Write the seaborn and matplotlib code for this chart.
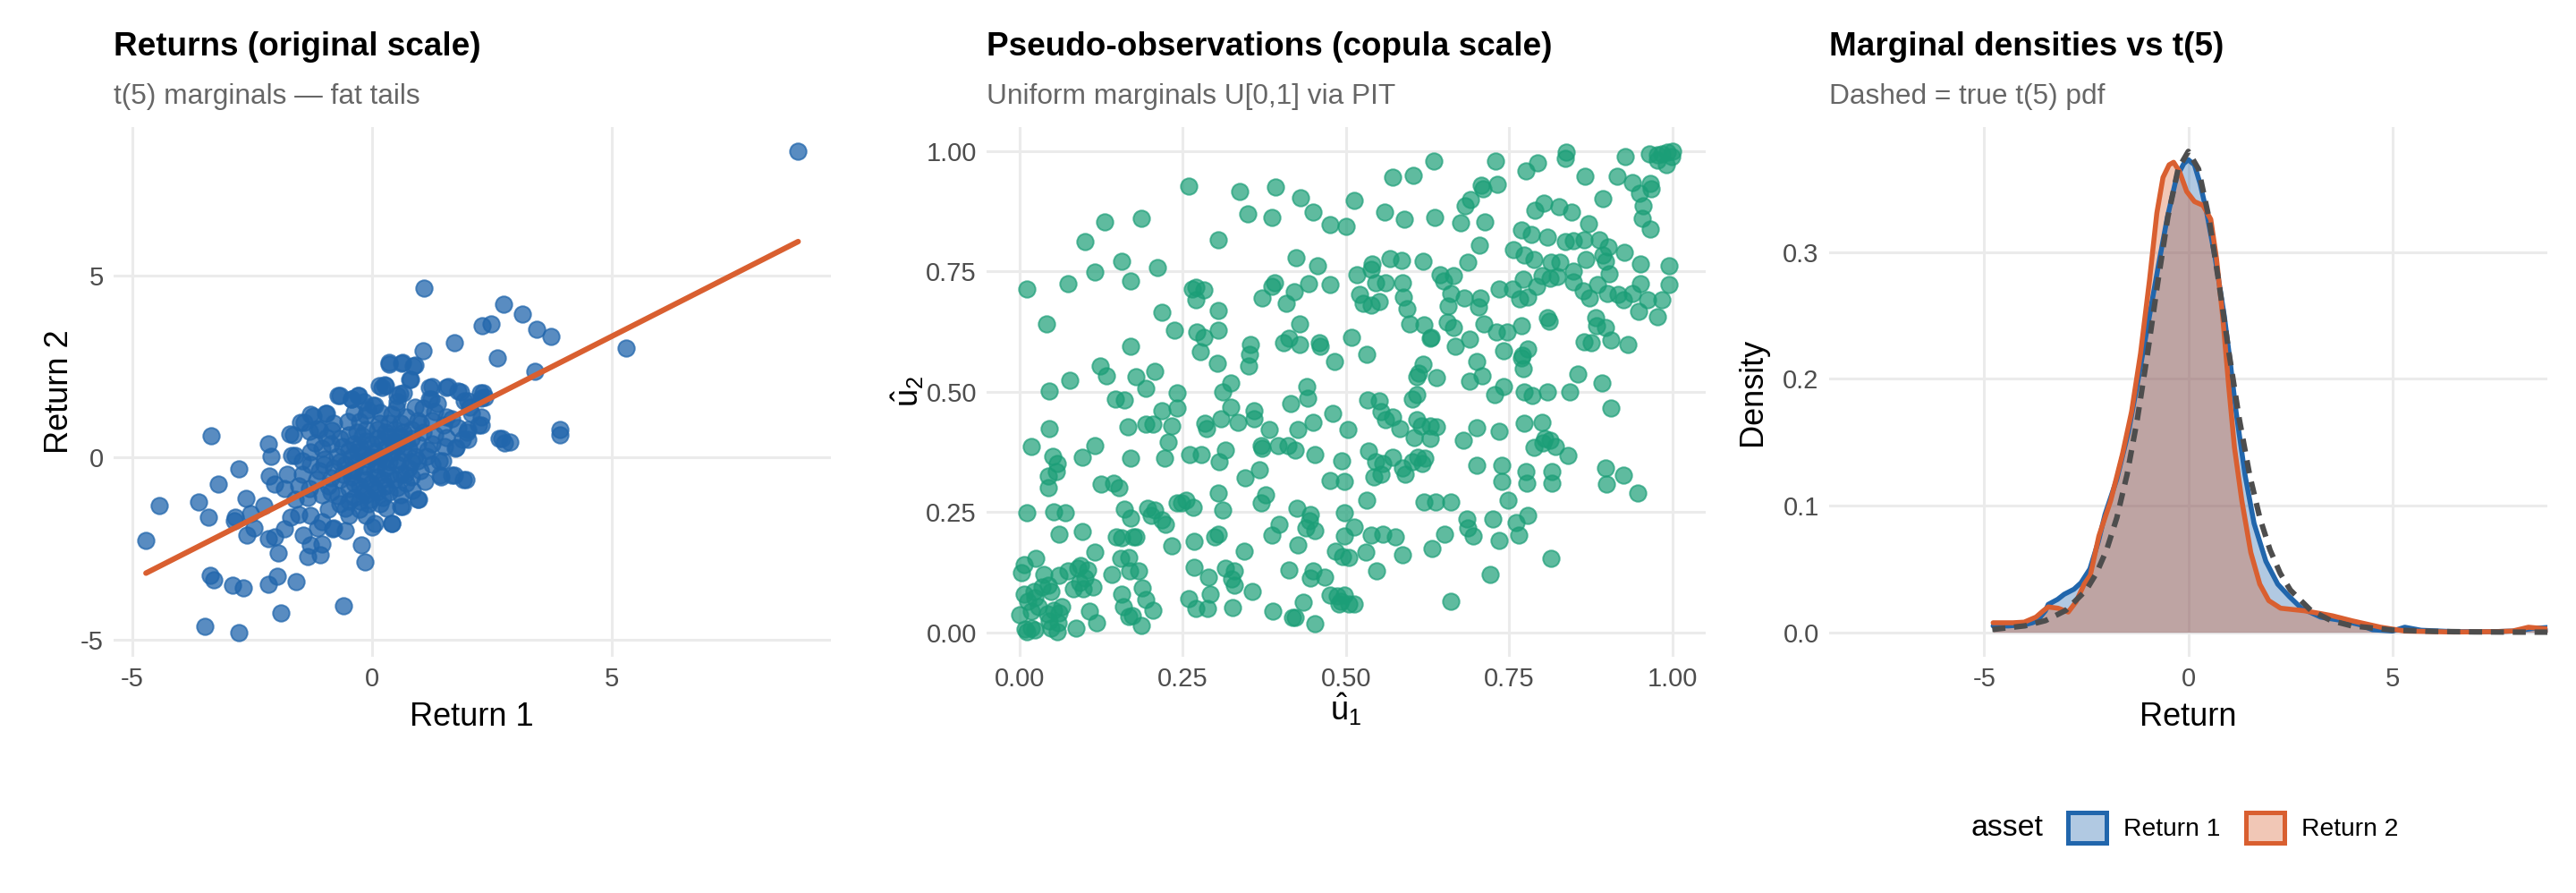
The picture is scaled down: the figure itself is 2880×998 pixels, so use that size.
import numpy as np
import pandas as pd
import matplotlib
matplotlib.use("Agg")
import matplotlib.pyplot as plt
from matplotlib.patches import Patch
from matplotlib.colors import to_rgba
import seaborn as sns

# ---- panel 1: returns, outer points ----
ret_outer = [
    (8.88, 8.42), (1.08, 4.66), (2.75, 4.22), (3.14, 3.93), (2.29, 3.61), (2.49, 3.67),
    (3.44, 3.51), (3.73, 3.32), (1.71, 3.15), (1.07, 2.92), (5.30, 3.01), (2.61, 2.73),
    (0.36, 2.60), (0.64, 2.62), (0.89, 2.54), (3.40, 2.37), (0.80, 2.15), (0.15, 1.97),
    (0.26, 1.99), (-0.70, 1.71), (-0.29, 1.71), (0.52, 1.71), (0.66, 1.77), (1.25, 1.94),
    (1.58, 1.94), (1.84, 1.80), (2.31, 1.77), (2.35, 1.65), (1.99, 1.55), (1.24, 1.60),
    (-0.42, 1.60), (0.02, 1.44), (-0.97, 1.21), (-1.28, 1.18), (-1.48, 0.96), (-1.13, 0.80),
    (-1.72, 0.64), (-3.36, 0.60), (-2.16, 0.38), (3.92, 0.77), (3.92, 0.61), (2.71, 0.52),
    (2.88, 0.42), (2.07, 1.21), (2.28, 0.89), (1.99, 0.77), (1.99, 0.49), (1.75, 0.27),
    (-2.10, 0.03), (-1.68, 0.06), (-2.77, -0.31), (-3.20, -0.74), (-2.14, -0.52), (-2.03, -0.72),
    (-4.43, -1.32), (-3.61, -1.21), (-3.40, -1.63), (-2.63, -1.13), (-2.87, -1.74), (-2.85, -1.63),
    (-2.54, -1.54), (-2.45, -1.94), (-2.60, -2.13), (-2.26, -1.33), (-4.71, -2.29), (-2.16, -2.24),
    (-2.03, -2.18), (-1.83, -1.96), (-1.95, -2.62), (-1.43, -2.13), (-1.28, -2.40), (-1.05, -2.37),
    (-1.34, -2.73), (-1.07, -2.68), (-1.13, -1.93), (-0.81, -1.96), (-0.56, -2.01), (-0.23, -2.41),
    (-0.15, -2.88), (0.00, -1.90), (0.42, -1.80), (0.97, -1.14), (0.64, -1.35), (-3.37, -3.23),
    (-3.29, -3.35), (-2.91, -3.51), (-2.68, -3.59), (-2.16, -3.48), (-1.97, -3.26), (-1.59, -3.42),
    (-0.60, -4.06), (-1.89, -4.26), (-3.49, -4.64), (-2.77, -4.80), (1.96, -0.60), (1.71, -0.49),
    (1.44, -0.53), (1.48, -0.08),
]

# ---- panel 1: the dense central cloud ----
ret_core = [
    (0.35, 2.57), (0.62, 2.58), (0.86, 2.52), (0.79, 2.15), (0.20, 1.93), (0.28, 1.97),
    (1.20, 1.93), (1.54, 1.93), (1.80, 1.82), (2.25, 1.78), (2.28, 1.64), (-0.66, 1.70),
    (-0.43, 1.60), (-0.28, 1.70), (-0.16, 1.52), (0.05, 1.43), (0.58, 1.75), (0.53, 1.52),
    (0.50, 1.35), (0.89, 1.39), (1.07, 1.35), (1.19, 1.60), (1.37, 1.48), (1.92, 1.56),
    (2.04, 1.39), (1.67, 1.07), (1.55, 1.11), (2.28, 1.11), (2.22, 0.90), (-1.41, 0.97),
    (-1.23, 1.14), (-0.95, 1.20), (-1.31, 0.71), (-1.64, 0.63), (-1.10, 0.78), (-0.83, 0.74),
    (-0.51, 0.98), (-0.37, 1.23), (-0.13, 1.15), (0.17, 1.23), (0.41, 1.19), (0.71, 1.11),
    (0.95, 1.02), (1.25, 1.02), (1.49, 0.90), (1.80, 0.82), (1.98, 0.70), (1.89, 0.49),
    (1.73, 0.25), (1.52, 0.29), (1.25, 0.37), (1.13, 0.04), (1.25, -0.20), (1.40, -0.08),
    (1.42, -0.49), (1.67, -0.48), (1.90, -0.61), (0.95, -1.15), (0.59, -1.35), (0.41, -1.80),
    (2.64, 0.52), (2.76, 0.41), (-1.61, 0.06), (-1.28, 0.16), (-1.04, 0.25), (-0.86, 0.37),
    (-0.67, 0.53), (-0.49, 0.61), (-0.31, 0.70), (-0.13, 0.78), (0.11, 0.78), (0.29, 0.70),
    (0.47, 0.78), (0.65, 0.70), (0.83, 0.78), (1.07, 0.70), (1.31, 0.61), (-0.98, -0.04),
    (-0.73, 0.04), (-0.49, 0.20), (-0.25, 0.29), (-0.01, 0.37), (0.23, 0.45), (0.47, 0.45),
    (0.71, 0.45), (0.95, 0.37), (-0.80, -0.29), (-0.55, -0.20), (-0.31, -0.12), (-0.07, -0.04),
    (0.17, 0.04), (0.41, 0.12), (0.65, 0.12), (0.89, 0.04), (-0.67, -0.61), (-0.43, -0.53),
    (-0.19, -0.45), (0.05, -0.37), (0.29, -0.29), (0.53, -0.20), (0.77, -0.29), (1.01, -0.37),
    (-0.49, -0.86), (-0.25, -0.78), (-0.01, -0.70), (0.23, -0.61), (0.47, -0.61), (0.71, -0.70),
    (-0.37, -1.11), (-0.13, -1.02), (0.11, -0.94), (0.35, -0.94), (0.59, -1.02), (-0.07, -1.27),
    (0.17, -1.27), (-0.25, -1.43), (-1.28, -0.20), (-1.46, -0.45), (-1.16, -0.61), (-1.52, -0.78),
    (-1.76, -0.45), (-1.82, -0.86), (-1.34, -1.11), (-1.04, -1.02), (-0.92, -1.43), (-0.67, -1.27),
    (-0.49, -1.60), (-0.13, -1.60), (0.05, -1.80), (-1.04, -1.76), (-1.52, -1.56), (-1.70, -1.64),
    (-1.28, -1.60), (-0.80, -1.93), (-0.61, 0.29), (-0.37, 0.37), (-0.13, 0.45), (0.11, 0.53),
    (0.35, 0.57), (0.59, 0.57), (0.83, 0.53), (-0.67, -0.12), (-0.43, 0.00), (-0.19, 0.08),
    (0.05, 0.16), (0.29, 0.25), (0.53, 0.29), (0.77, 0.25), (-0.61, -0.45), (-0.37, -0.33),
    (-0.13, -0.25), (0.11, -0.20), (0.35, -0.12), (0.59, -0.08), (0.83, -0.12), (-0.37, -0.70),
    (-0.13, -0.61), (0.11, -0.53), (0.35, -0.49), (0.59, -0.45), (0.83, -0.53), (-0.19, -0.94),
    (0.05, -0.86), (0.29, -0.78), (0.53, -0.82), (-0.49, -1.19), (-0.25, -1.19), (-0.01, -1.15),
    (0.23, -1.11), (-0.92, -0.78), (-1.10, -0.37), (-0.86, -0.94),
    (-1.20, 0.40), (-0.95, 0.55), (-0.80, 0.95), (-0.25, 1.00), (0.35, 0.95), (1.00, 0.95),
    (1.15, 0.20), (1.10, -0.65), (0.85, -0.90), (-1.00, -0.20), (-1.30, -0.85), (-0.70, -1.05),
    (-0.20, 0.60), (0.45, 0.35), (0.70, -0.45), (-0.45, -0.35), (0.00, 0.00), (0.25, -0.05),
    (-0.30, 0.15), (0.60, 0.95), (-0.55, -1.40), (0.30, -1.40), (-1.45, -0.10), (1.55, 0.55),
    (1.30, 1.25), (-0.10, 1.30), (-0.85, -0.55), (0.95, -0.10), (-1.60, -1.15), (0.15, 0.95),
]

# OLS fit shown on panel 1
fit_slope = 0.67
fit_intercept = -0.02

# ---- panel 2: pseudo-observations, by horizontal band ----
pobs_top = [
    (0.837, 0.998), (0.836, 0.984), (0.927, 0.989), (0.965, 0.994), (0.976, 0.992), (0.984, 0.994),
    (0.992, 0.998), (1.000, 1.000), (0.999, 0.989), (0.991, 0.971), (0.976, 0.980), (0.634, 0.978),
    (0.729, 0.978), (0.793, 0.975), (0.776, 0.959), (0.571, 0.946), (0.603, 0.949), (0.915, 0.948),
    (0.939, 0.935), (0.966, 0.933), (0.967, 0.921), (0.949, 0.911), (0.866, 0.947), (0.707, 0.929),
    (0.732, 0.931), (0.710, 0.921), (0.260, 0.927), (0.392, 0.925), (0.338, 0.916), (0.512, 0.897),
    (0.430, 0.903), (0.691, 0.899), (0.893, 0.901), (0.803, 0.891), (0.826, 0.884), (0.955, 0.885),
    (0.350, 0.870), (0.387, 0.862), (0.450, 0.873), (0.559, 0.873), (0.589, 0.858), (0.636, 0.861),
    (0.682, 0.885), (0.789, 0.876), (0.845, 0.872), (0.954, 0.859), (0.187, 0.860), (0.131, 0.852),
    (0.476, 0.846), (0.500, 0.844), (0.676, 0.850), (0.712, 0.852), (0.871, 0.848), (0.769, 0.835),
    (0.966, 0.837), (0.101, 0.812), (0.305, 0.816), (0.704, 0.805), (0.784, 0.826), (0.808, 0.820),
    (0.835, 0.812), (0.848, 0.813), (0.888, 0.816), (0.865, 0.816), (0.902, 0.800), (0.926, 0.790),
    (0.893, 0.784),
]
pobs_upper = [
    (0.424, 0.779), (0.457, 0.762), (0.828, 0.769), (0.814, 0.769), (0.824, 0.739), (0.848, 0.750),
    (0.867, 0.774), (0.897, 0.770), (0.950, 0.766), (0.994, 0.762), (0.773, 0.784), (0.756, 0.794),
    (0.687, 0.769), (0.618, 0.771), (0.585, 0.773), (0.540, 0.766), (0.568, 0.777), (0.538, 0.754),
    (0.517, 0.743), (0.545, 0.726), (0.560, 0.726), (0.587, 0.726), (0.644, 0.742), (0.664, 0.741),
    (0.649, 0.729), (0.800, 0.741), (0.812, 0.735), (0.848, 0.728), (0.863, 0.709), (0.903, 0.744),
    (0.885, 0.723), (0.951, 0.724), (0.994, 0.722), (0.212, 0.757), (0.156, 0.771), (0.116, 0.749),
    (0.171, 0.729), (0.074, 0.725), (0.011, 0.713), (0.270, 0.716), (0.282, 0.711), (0.265, 0.713),
    (0.270, 0.690), (0.476, 0.723), (0.443, 0.724), (0.391, 0.726), (0.387, 0.719), (0.421, 0.707),
    (0.788, 0.775), (0.771, 0.734), (0.792, 0.719), (0.778, 0.696), (0.766, 0.693), (0.734, 0.713),
    (0.755, 0.713), (0.873, 0.694), (0.900, 0.703), (0.917, 0.702), (0.924, 0.690), (0.939, 0.703),
    (0.962, 0.690), (0.983, 0.690), (0.977, 0.656), (0.948, 0.666), (0.371, 0.694), (0.409, 0.683),
    (0.521, 0.702), (0.539, 0.680), (0.551, 0.687), (0.526, 0.683), (0.588, 0.696), (0.681, 0.694),
    (0.660, 0.703), (0.593, 0.672), (0.656, 0.678), (0.705, 0.694), (0.703, 0.675),
]
pobs_middle = [
    (0.042, 0.640), (0.218, 0.665), (0.304, 0.668), (0.238, 0.627), (0.272, 0.624), (0.282, 0.613),
    (0.277, 0.583), (0.305, 0.627), (0.429, 0.640), (0.412, 0.611), (0.405, 0.601), (0.459, 0.601),
    (0.508, 0.613), (0.532, 0.577), (0.598, 0.640), (0.620, 0.639), (0.655, 0.645), (0.629, 0.611),
    (0.665, 0.634), (0.667, 0.595), (0.689, 0.609), (0.711, 0.641), (0.730, 0.624), (0.747, 0.624),
    (0.741, 0.584), (0.768, 0.636), (0.778, 0.589), (0.768, 0.570), (0.772, 0.547), (0.770, 0.575),
    (0.808, 0.654), (0.811, 0.646), (0.864, 0.603), (0.875, 0.601), (0.883, 0.636), (0.897, 0.633),
    (0.882, 0.654), (0.905, 0.607), (0.931, 0.597), (0.855, 0.536), (0.892, 0.518), (0.906, 0.466),
    (0.171, 0.595), (0.124, 0.553), (0.134, 0.532), (0.179, 0.530), (0.207, 0.542), (0.242, 0.497),
    (0.193, 0.507), (0.077, 0.523), (0.046, 0.501), (0.147, 0.485), (0.161, 0.482), (0.303, 0.558),
    (0.352, 0.577), (0.354, 0.597), (0.351, 0.553), (0.311, 0.500), (0.323, 0.518), (0.483, 0.562),
    (0.429, 0.598), (0.461, 0.595), (0.700, 0.562), (0.631, 0.613), (0.708, 0.532), (0.618, 0.556),
    (0.611, 0.539), (0.608, 0.530), (0.638, 0.529), (0.689, 0.521), (0.727, 0.494), (0.741, 0.510),
    (0.773, 0.500), (0.785, 0.492), (0.808, 0.500), (0.842, 0.500), (0.601, 0.485), (0.609, 0.494),
]
pobs_lower = [
    (0.046, 0.423), (0.019, 0.385), (0.096, 0.363), (0.116, 0.388), (0.051, 0.365), (0.058, 0.350),
    (0.057, 0.334), (0.044, 0.324), (0.045, 0.301), (0.125, 0.307), (0.145, 0.310), (0.152, 0.300),
    (0.171, 0.361), (0.166, 0.427), (0.193, 0.433), (0.205, 0.433), (0.222, 0.361), (0.228, 0.396),
    (0.218, 0.461), (0.234, 0.429), (0.241, 0.465), (0.261, 0.370), (0.278, 0.370), (0.284, 0.435),
    (0.287, 0.423), (0.309, 0.443), (0.306, 0.354), (0.324, 0.468), (0.334, 0.436), (0.345, 0.321),
    (0.359, 0.461), (0.359, 0.444), (0.367, 0.337), (0.370, 0.388), (0.372, 0.383), (0.370, 0.269),
    (0.382, 0.421), (0.377, 0.286), (0.396, 0.388), (0.411, 0.388), (0.416, 0.475), (0.427, 0.421),
    (0.422, 0.379), (0.452, 0.370), (0.476, 0.316), (0.450, 0.437), (0.440, 0.511), (0.442, 0.486),
    (0.497, 0.313), (0.503, 0.421), (0.480, 0.455), (0.533, 0.482), (0.551, 0.480), (0.560, 0.441),
    (0.553, 0.459), (0.572, 0.447), (0.582, 0.423), (0.608, 0.441), (0.604, 0.404), (0.601, 0.354),
    (0.615, 0.429), (0.629, 0.428), (0.610, 0.364), (0.616, 0.350), (0.621, 0.361), (0.535, 0.376),
    (0.543, 0.322), (0.545, 0.354), (0.557, 0.351), (0.532, 0.275), (0.553, 0.328), (0.571, 0.364),
    (0.587, 0.342), (0.591, 0.328), (0.700, 0.425), (0.735, 0.418), (0.700, 0.346), (0.679, 0.399),
    (0.738, 0.346), (0.739, 0.314), (0.773, 0.434), (0.776, 0.334), (0.777, 0.310), (0.815, 0.310),
    (0.815, 0.333), (0.812, 0.399), (0.801, 0.393), (0.800, 0.436), (0.820, 0.385), (0.840, 0.367),
    (0.897, 0.342), (0.899, 0.307), (0.925, 0.327), (0.947, 0.289), (0.788, 0.384), (0.804, 0.403),
    (0.639, 0.427), (0.620, 0.271), (0.637, 0.270), (0.660, 0.271), (0.748, 0.274), (0.497, 0.248),
    (0.495, 0.158), (0.493, 0.357), (0.446, 0.245), (0.425, 0.257), (0.444, 0.231), (0.438, 0.217),
    (0.453, 0.212), (0.427, 0.181), (0.513, 0.219), (0.484, 0.168), (0.629, 0.402), (0.315, 0.379),
    (0.305, 0.289), (0.312, 0.254), (0.266, 0.260), (0.248, 0.269), (0.255, 0.275),
]
pobs_bottom = [
    (0.000, 0.036), (0.003, 0.123), (0.008, 0.141), (0.011, 0.248), (0.008, 0.079), (0.009, 0.006),
    (0.011, 0.001), (0.018, 0.008), (0.024, 0.004), (0.019, 0.044), (0.013, 0.065), (0.023, 0.084),
    (0.024, 0.072), (0.030, 0.053), (0.025, 0.154), (0.035, 0.094), (0.037, 0.121), (0.044, 0.097),
    (0.048, 0.085), (0.043, 0.038), (0.046, 0.023), (0.048, 0.008), (0.058, 0.002), (0.060, 0.020),
    (0.053, 0.046), (0.061, 0.041), (0.065, 0.053), (0.061, 0.119), (0.074, 0.127), (0.083, 0.091),
    (0.089, 0.133), (0.094, 0.139), (0.092, 0.103), (0.104, 0.129), (0.100, 0.113), (0.108, 0.044),
    (0.113, 0.094), (0.118, 0.020), (0.087, 0.008), (0.098, 0.091), (0.061, 0.204), (0.052, 0.250),
    (0.070, 0.248), (0.096, 0.209), (0.116, 0.166), (0.141, 0.120), (0.155, 0.154), (0.149, 0.198),
    (0.156, 0.196), (0.161, 0.256), (0.171, 0.237), (0.174, 0.198), (0.178, 0.198), (0.168, 0.156),
    (0.169, 0.127), (0.157, 0.079), (0.160, 0.053), (0.167, 0.032), (0.173, 0.034), (0.182, 0.127),
    (0.188, 0.092), (0.194, 0.069), (0.187, 0.015), (0.196, 0.258), (0.202, 0.242), (0.218, 0.233),
    (0.224, 0.224), (0.207, 0.254), (0.205, 0.046), (0.260, 0.070), (0.270, 0.049), (0.288, 0.049),
    (0.292, 0.079), (0.290, 0.115), (0.267, 0.135), (0.267, 0.188), (0.233, 0.180), (0.242, 0.269),
    (0.299, 0.198), (0.304, 0.204), (0.315, 0.133), (0.329, 0.127), (0.325, 0.110), (0.329, 0.097),
    (0.326, 0.051), (0.344, 0.168), (0.357, 0.084), (0.386, 0.201), (0.397, 0.224), (0.388, 0.043),
    (0.413, 0.130), (0.418, 0.030), (0.422, 0.030), (0.435, 0.063), (0.449, 0.127), (0.445, 0.113),
    (0.452, 0.017), (0.468, 0.115), (0.476, 0.078), (0.487, 0.076), (0.492, 0.065), (0.490, 0.058),
    (0.497, 0.078), (0.498, 0.200), (0.505, 0.156), (0.505, 0.058), (0.513, 0.059), (0.531, 0.167),
    (0.547, 0.128), (0.538, 0.201), (0.557, 0.204), (0.576, 0.198), (0.587, 0.161), (0.632, 0.174),
    (0.651, 0.204), (0.661, 0.065), (0.685, 0.236), (0.695, 0.200), (0.721, 0.120), (0.725, 0.236),
    (0.735, 0.190), (0.760, 0.228), (0.764, 0.201), (0.778, 0.243), (0.814, 0.153), (0.686, 0.216),
]

# ---- panel 3: kernel densities ----
dens1_x = [-4.78, -4.4, -4.0, -3.82, -3.7, -3.5, -3.43, -3.2, -3.04, -2.8, -2.63, -2.41, -2.2,
           -2.04, -1.75, -1.46, -1.17, -0.95, -0.73, -0.51, -0.29, -0.11, 0.0, 0.15, 0.29, 0.44,
           0.66, 0.88, 1.02, 1.17, 1.39, 1.61, 1.90, 2.19, 2.48, 2.77, 3.24, 3.82, 4.2, 4.51,
           5.0, 5.3, 5.7, 6.5, 7.5, 8.0, 8.43, 8.9]
dens1_y = [0.005, 0.005, 0.006, 0.0075, 0.009, 0.017, 0.022, 0.026, 0.030, 0.034, 0.039, 0.050, 0.072,
           0.093, 0.121, 0.159, 0.210, 0.250, 0.290, 0.328, 0.359, 0.370, 0.373, 0.369, 0.354, 0.333,
           0.295, 0.250, 0.215, 0.174, 0.124, 0.086, 0.056, 0.038, 0.028, 0.019, 0.012, 0.009, 0.006, 0.002,
           0.001, 0.004, 0.0016, 0.0005, 0.0005, 0.001, 0.003, 0.004]
dens2_x = [-4.78, -4.3, -4.02, -3.73, -3.55, -3.43, -3.19, -2.94, -2.75, -2.55, -2.4, -2.19, -1.90,
           -1.61, -1.39, -1.17, -0.95, -0.77, -0.62, -0.47, -0.36, -0.22, -0.04, 0.15, 0.36, 0.55,
           0.69, 0.84, 0.99, 1.13, 1.31, 1.53, 1.75, 1.97, 2.26, 2.55, 2.84, 3.2, 3.53, 4.02, 4.71,
           5.3, 6.5, 7.5, 7.94, 8.33, 8.9]
dens2_y = [0.0075, 0.0075, 0.008, 0.012, 0.017, 0.020, 0.019, 0.016, 0.024, 0.038, 0.045, 0.076, 0.104,
           0.141, 0.174, 0.220, 0.278, 0.331, 0.359, 0.369, 0.371, 0.364, 0.348, 0.340, 0.337, 0.326,
           0.295, 0.250, 0.194, 0.146, 0.104, 0.063, 0.038, 0.025, 0.019, 0.018, 0.017, 0.015, 0.013,
           0.009, 0.004, 0.001, 0.0002, 0.0005, 0.001, 0.004, 0.0023]
# dashed reference curve (true t(5) pdf) read at these points
tpdf_x = [-4.8, -4.0, -3.5, -3.0, -2.5, -2.25, -2.0, -1.75, -1.5, -1.25, -1.0, -0.75, -0.5, -0.25,
          0.0, 0.25, 0.5, 0.75, 1.0, 1.25, 1.5, 1.75, 2.0, 2.25, 2.5, 3.0, 3.5, 4.0, 5.0, 6.0,
          7.0, 8.0, 8.9]
tpdf_y = [0.0022, 0.0051, 0.0092, 0.0173, 0.0333, 0.0466, 0.0651, 0.0905, 0.1245, 0.168, 0.2197,
          0.2757, 0.3279, 0.3657, 0.3796, 0.3657, 0.3279, 0.2757, 0.2197, 0.168, 0.1245, 0.0905,
          0.0651, 0.0466, 0.0333, 0.0173, 0.0092, 0.0051, 0.0018, 0.0007, 0.0003, 0.00014, 0.0001]

BLUE = "#2166AC"
ORANGE = "#D95F30"
GREEN = "#1B9E77"
GRID = "#EBEBEB"

sns.set_theme(style="white")
plt.rcParams["font.family"] = ["Liberation Sans", "DejaVu Sans"]
plt.rcParams["mathtext.fontset"] = "custom"
plt.rcParams["mathtext.rm"] = "Liberation Sans"
plt.rcParams["axes.unicode_minus"] = False
plt.rcParams["text.color"] = "black"
plt.rcParams["axes.labelcolor"] = "black"

ret = pd.DataFrame(ret_outer + ret_core, columns=["r1", "r2"])
pobs = pd.DataFrame(pobs_top + pobs_upper + pobs_middle + pobs_lower + pobs_bottom,
                    columns=["u1", "u2"])

fig = plt.figure(figsize=(14.4, 4.99), dpi=200)
ax1 = fig.add_axes([0.044, 0.265, 0.2785, 0.593])
ax2 = fig.add_axes([0.383, 0.265, 0.279, 0.593])
ax3 = fig.add_axes([0.710, 0.265, 0.279, 0.593])


def style(ax):
    for s in ax.spines.values():
        s.set_visible(False)
    ax.grid(True, color=GRID, lw=1.1)
    ax.set_axisbelow(True)
    ax.tick_params(length=0, labelsize=10.5, labelcolor="#4D4D4D", pad=4)
    ax.xaxis.label.set_size(13)
    ax.yaxis.label.set_size(13)


def titles(ax, title, subtitle):
    x0 = ax.get_position().x0
    fig.text(x0, 0.947, title, fontsize=13.3, fontweight="bold", va="center", ha="left")
    fig.text(x0, 0.892, subtitle, fontsize=11.4, color="#666666", va="center", ha="left")


# panel 1
sns.scatterplot(data=ret, x="r1", y="r2", ax=ax1, color=BLUE, alpha=0.75, s=44,
                edgecolor=BLUE, linewidth=0.7)
line_x = np.array([ret["r1"].min(), ret["r1"].max()])
sns.lineplot(x=line_x, y=fit_intercept + fit_slope * line_x, ax=ax1, color=ORANGE, lw=2.2)
ax1.set_xticks([-5, 0, 5])
ax1.set_yticks([-5, 0, 5])
ax1.set_xlabel("Return 1", labelpad=4)
ax1.set_ylabel("Return 2", labelpad=2)
style(ax1)
titles(ax1, "Returns (original scale)", "t(5) marginals \u2014 fat tails")

# panel 2
sns.scatterplot(data=pobs, x="u1", y="u2", ax=ax2, color=GREEN, alpha=0.7, s=44,
                edgecolor=GREEN, linewidth=0.7)
ax2.set_xlim(-0.05, 1.05)
ax2.set_ylim(-0.05, 1.05)
ticks = [0, 0.25, 0.5, 0.75, 1.0]
ax2.set_xticks(ticks)
ax2.set_yticks(ticks)
ax2.set_xticklabels([f"{t:.2f}" for t in ticks])
ax2.set_yticklabels([f"{t:.2f}" for t in ticks])
ax2.set_xlabel(r"$\hat{\mathrm{u}}_1$", labelpad=0)
ax2.set_ylabel(r"$\hat{\mathrm{u}}_2$", labelpad=0)
style(ax2)
titles(ax2, "Pseudo-observations (copula scale)", "Uniform marginals U[0,1] via PIT")

# panel 3
ax3.fill_between(dens1_x, dens1_y, color=BLUE, alpha=0.35, lw=0)
sns.lineplot(x=dens1_x, y=dens1_y, ax=ax3, color=BLUE, lw=2.0)
ax3.fill_between(dens2_x, dens2_y, color=ORANGE, alpha=0.35, lw=0)
sns.lineplot(x=dens2_x, y=dens2_y, ax=ax3, color=ORANGE, lw=2.0)
sns.lineplot(x=tpdf_x, y=tpdf_y, ax=ax3, color="#4D4D4D", lw=2.2, dashes=False,
             linestyle=(0, (2.4, 1.6)))
ax3.set_xlim(-8.8, 8.8)
ax3.set_ylim(-0.019, 0.399)
ax3.set_xticks([-5, 0, 5])
ax3.set_yticks([0, 0.1, 0.2, 0.3])
ax3.set_yticklabels(["0.0", "0.1", "0.2", "0.3"])
ax3.set_xlabel("Return", labelpad=4)
ax3.set_ylabel("Density", labelpad=6)
style(ax3)
titles(ax3, "Marginal densities vs t(5)", "Dashed = true t(5) pdf")

handles = [Patch(facecolor=to_rgba(BLUE, 0.35), edgecolor=BLUE, lw=1.8, label="Return 1"),
           Patch(facecolor=to_rgba(ORANGE, 0.35), edgecolor=ORANGE, lw=1.8, label="Return 2")]
fig.text(0.765, 0.073, "asset", fontsize=12.2, va="center", ha="left")
fig.legend(handles=handles, loc="center", bbox_to_anchor=(0.867, 0.073), ncol=2, frameon=False,
           fontsize=10.2, handlelength=1.5, handleheight=1.5, handletextpad=0.7, columnspacing=1.0)

fig.savefig("out.png", dpi=200, facecolor="white")
